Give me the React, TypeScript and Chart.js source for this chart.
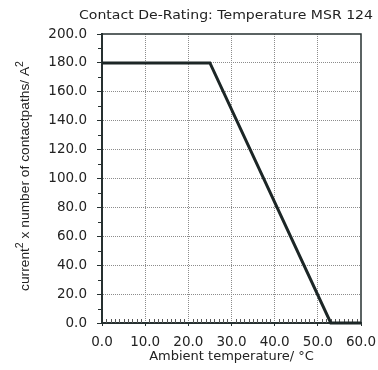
import React, { useEffect, useRef } from "react";
import { Chart, registerables } from "chart.js";

Chart.register(...registerables);

const temperatures = [0, 25, 53, 60];
const deratingValues = [180, 180, 0, 0];
const xTicks = [0, 10, 20, 30, 40, 50, 60];
const yTicks = [0, 20, 40, 60, 80, 100, 120, 140, 160, 180, 200];
const chartTitle = "Contact De-Rating: Temperature MSR 124";
const xTitle = "Ambient temperature/ °C";
const yTitleParts = ["current", "2", " x number of contactpaths/ A", "2"];
const yTitleSuper = [false, true, false, true];

const AXIS = "#263030";
const GRID = "#8c8c8c";
const LINE = "#1c2626";

const decorPlugin = {
  id: "decor",
  beforeDatasetsDraw(chart: any) {
    const ctx = chart.ctx;
    const { left, right, top, bottom } = chart.chartArea;
    const xs = chart.scales.x;
    const ys = chart.scales.y;
    ctx.save();
    ctx.strokeStyle = AXIS;
    ctx.lineWidth = 1;
    for (let v = 10; v < 200; v += 20) {
      const y = Math.round(ys.getPixelForValue(v)) + 0.5;
      ctx.beginPath();
      ctx.moveTo(left - 4, y);
      ctx.lineTo(left, y);
      ctx.stroke();
    }
    ctx.strokeStyle = "#555";
    for (let v = 1; v < 60; v++) {
      if (v % 10 === 0) continue;
      const x = Math.round(xs.getPixelForValue(v)) + 0.5;
      ctx.beginPath();
      ctx.moveTo(x, bottom);
      ctx.lineTo(x, bottom - 4);
      ctx.stroke();
    }
    ctx.strokeStyle = AXIS;
    ctx.lineWidth = 1.5;
    ctx.beginPath();
    ctx.moveTo(left, top);
    ctx.lineTo(right, top);
    ctx.lineTo(right, bottom);
    ctx.stroke();
    ctx.restore();
  },
  afterDraw(chart: any) {
    const ctx = chart.ctx;
    ctx.save();
    ctx.fillStyle = "#222";
    ctx.font = "13px 'DejaVu Sans'";
    ctx.textBaseline = "alphabetic";
    ctx.textAlign = "left";
    const tw = ctx.measureText(chartTitle).width;
    const targetTW = 294;
    ctx.save();
    ctx.translate(79, 18.5);
    ctx.scale(targetTW / tw, 1);
    ctx.fillText(chartTitle, 0, 0);
    ctx.restore();

    const baseFont = "13px 'Liberation Sans'";
    const supFont = "10px 'Liberation Sans'";
    let total = 0;
    const widths: number[] = [];
    yTitleParts.forEach((p, i) => {
      ctx.font = yTitleSuper[i] ? supFont : baseFont;
      const w = ctx.measureText(p).width;
      widths.push(w);
      total += w;
    });
    const target = 230;
    ctx.save();
    ctx.translate(29, 291);
    ctx.rotate(-Math.PI / 2);
    ctx.scale(target / total, 1);
    let x = 0;
    yTitleParts.forEach((p, i) => {
      ctx.font = yTitleSuper[i] ? supFont : baseFont;
      ctx.fillText(p, x, yTitleSuper[i] ? -6 : 0);
      x += widths[i];
    });
    ctx.restore();
    ctx.restore();
  },
};

export default function App() {
  const ref = useRef<HTMLCanvasElement>(null);
  useEffect(() => {
    if (!ref.current) return;
    const chart = new Chart(ref.current, {
      type: "line",
      data: {
        datasets: [
          {
            data: temperatures.map((t, i) => ({ x: t, y: deratingValues[i] })),
            borderColor: LINE,
            borderWidth: 3,
            pointRadius: 0,
            fill: false,
            tension: 0,
            clip: false as any,
          },
        ],
      },
      options: {
        animation: false,
        responsive: false,
        maintainAspectRatio: false,
        layout: { padding: { left: 0, right: 17, top: 34, bottom: 0 } },
        plugins: {
          legend: { display: false },
          title: { display: false },
          tooltip: { enabled: false },
        },
        scales: {
          x: {
            type: "linear",
            min: 0,
            max: 60,
            afterFit: (s: any) => {
              s.height = 47;
              s.paddingLeft = 0;
              s.paddingRight = 0;
              s.paddingTop = 0;
              s.paddingBottom = 0;
            },
            afterBuildTicks: (s: any) => {
              s.ticks = xTicks.map((v) => ({ value: v }));
            },
            ticks: {
              color: "#222",
              font: { family: "'DejaVu Sans'", size: 13.5 },
              padding: 8,
              maxRotation: 0,
              callback: (v: any) => Number(v).toFixed(1),
            },
            grid: {
              color: (c: any) =>
                c.tick && (c.tick.value === 0 || c.tick.value === 60) ? "rgba(0,0,0,0)" : GRID,
              lineWidth: 1,
              tickLength: 3,
              tickColor: AXIS,
              tickWidth: 1,
            },
            border: { display: true, color: AXIS, width: 2, dash: [1, 1] },
            title: {
              display: true,
              text: xTitle,
              color: "#222",
              font: { family: "'DejaVu Sans'", size: 13 },
              padding: { top: 0, bottom: 6 },
            },
          },
          y: {
            type: "linear",
            min: 0,
            max: 200,
            afterFit: (s: any) => {
              s.width = 102;
              s.paddingLeft = 0;
              s.paddingRight = 0;
              s.paddingTop = 0;
              s.paddingBottom = 0;
            },
            afterBuildTicks: (s: any) => {
              s.ticks = yTicks.map((v) => ({ value: v }));
            },
            ticks: {
              color: "#222",
              font: { family: "'DejaVu Sans'", size: 13.5 },
              padding: 10,
              callback: (v: any) => Number(v).toFixed(1),
            },
            grid: {
              color: (c: any) =>
                c.tick && (c.tick.value === 0 || c.tick.value === 200) ? "rgba(0,0,0,0)" : GRID,
              lineWidth: 1,
              tickLength: 5,
              tickColor: AXIS,
              tickWidth: 1,
            },
            border: { display: true, color: AXIS, width: 2, dash: [1, 1] },
          },
        },
      },
      plugins: [decorPlugin],
    });
    return () => chart.destroy();
  }, []);
  return (
    <div style={{ position: "fixed", left: 0, top: 0, width: 378, height: 370, background: "#fff" }}>
      <canvas ref={ref} width={378} height={370} style={{ display: "block" }} />
    </div>
  );
}
